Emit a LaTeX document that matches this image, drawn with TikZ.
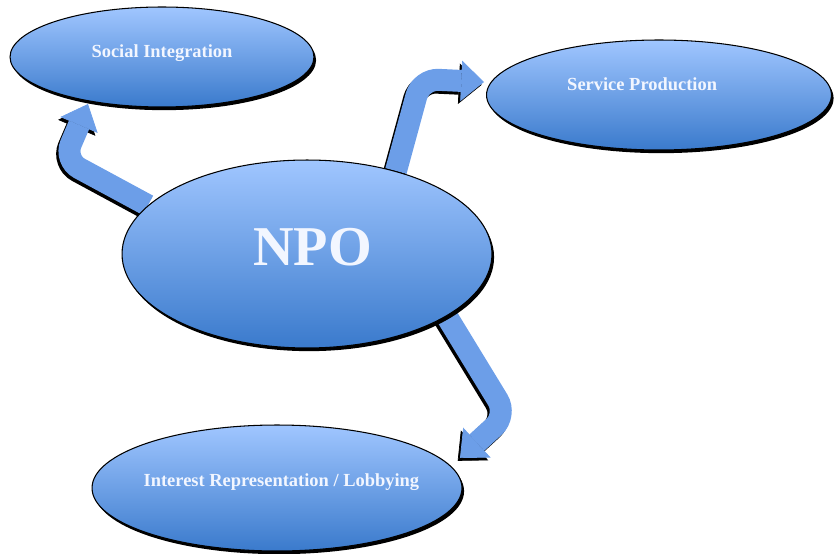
\documentclass[tikz,border=0pt]{standalone}
\usepackage{fontspec}
\setmainfont{Liberation Serif}
\usetikzlibrary{arrows.meta,shapes.geometric,shadows,backgrounds}

\definecolor{bubtop}{RGB}{160,198,255}
\definecolor{bubbot}{RGB}{58,122,204}
\definecolor{arrblue}{RGB}{108,158,232}
\definecolor{txtwhite}{RGB}{242,246,255}

\begin{document}
\begin{tikzpicture}[x=0.02cm, y=-0.02cm,
  bubble/.style={ellipse, draw=black, line width=0.6pt, inner sep=0pt,
    top color=bubtop, bottom color=bubbot,
    drop shadow={shadow xshift=1.2pt, shadow yshift=-1.8pt, fill=black, opacity=1}},
  lbl/.style={font=\bfseries\fontsize{10.5}{12}\selectfont, text=txtwhite},
  bigarr/.style={line width=12.5pt, draw=arrblue, rounded corners=10pt,
    -{Triangle[length=13pt, width=23pt, line width=0.4pt]}},
  arrshadow/.style={bigarr, draw=black, transform canvas={xshift=-1.3pt, yshift=-1.6pt}}
]
\useasboundingbox (0,0) rectangle (835,554);

% the four bubbles
\node[bubble, minimum width=6.08cm, minimum height=2.0cm] (si) at (162,57) {};
\node[bubble, minimum width=6.9cm, minimum height=2.2cm] (sp) at (659,95) {};
\node[bubble, minimum width=7.4cm, minimum height=3.76cm] (npo) at (307,254) {};
\node[bubble, minimum width=7.4cm, minimum height=2.52cm] (ir) at (277,488) {};

\node[lbl] at ([yshift=2.3pt]si.center) {Social Integration};
\node[lbl] at ([xshift=-9.6pt, yshift=6.2pt]sp.center) {Service Production};
\node[lbl, font=\bfseries\fontsize{32}{36}\selectfont] at ([xshift=3.2pt, yshift=4pt]npo.center) {NPO};
\node[lbl] at ([xshift=2.5pt, yshift=3.4pt]ir.center) {Interest Representation / Lobbying};

% bends and tips of the arrows
\coordinate (b1) at (64,160);
\coordinate (t1) at (88,104);
\coordinate (b2) at (421,79);
\coordinate (t2) at (484,82);
\coordinate (b3) at (507,415);
\coordinate (t3) at (460,458);

\begin{scope}[on background layer]
  \draw[arrshadow] (npo.163) -- (b1) -- (t1);
  \draw[bigarr] (npo.163) -- (b1) -- (t1);
  \draw[arrshadow] (npo.43) -- (b2) -- (t2);
  \draw[bigarr] (npo.43) -- (b2) -- (t2);
  \draw[arrshadow] (npo.-24) -- (b3) -- (t3);
  \draw[bigarr] (npo.-24) -- (b3) -- (t3);
\end{scope}

\end{tikzpicture}
\end{document}
